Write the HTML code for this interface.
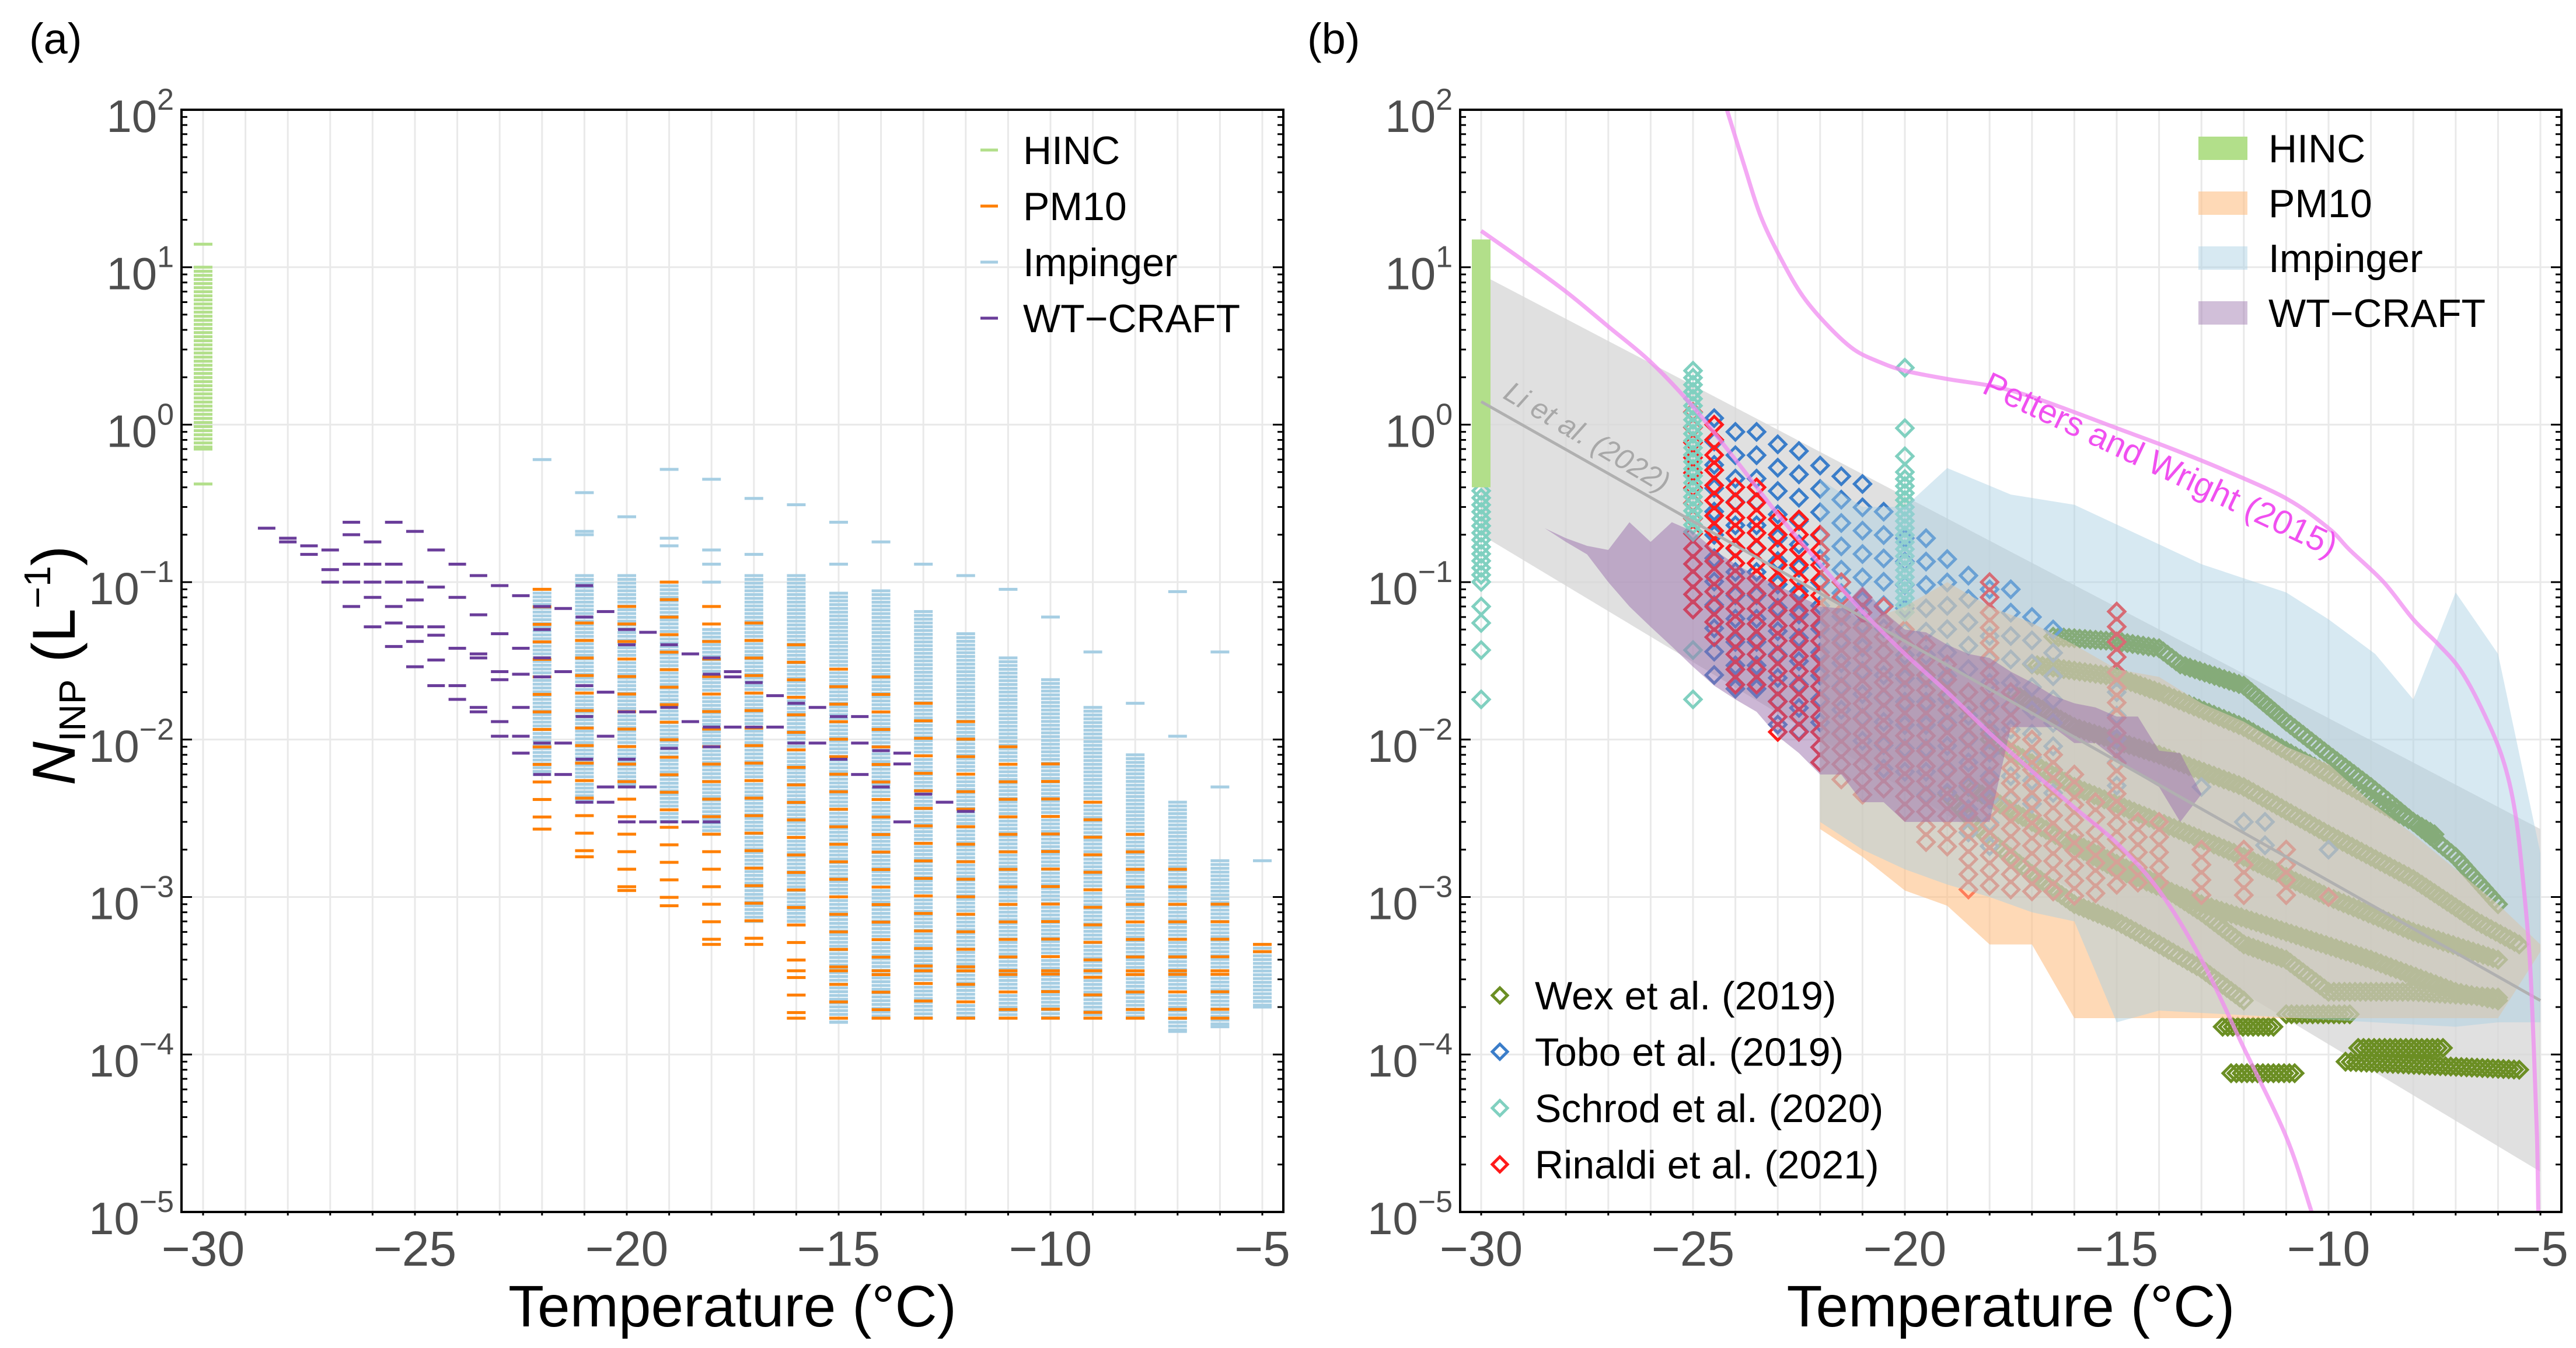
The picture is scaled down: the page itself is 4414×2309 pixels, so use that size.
<!DOCTYPE html>
<html><head><meta charset="utf-8"><style>
html,body{margin:0;padding:0;background:#fff}
svg{display:block}
text{font-family:"Liberation Sans",Arial,sans-serif}
</style></head><body>
<svg id="fig" xmlns="http://www.w3.org/2000/svg" width="4414" height="2309" viewBox="0 0 4414 2309">
<defs>
<clipPath id="clipA"><rect x="311" y="188" width="1888" height="1888"/></clipPath>
<clipPath id="clipB"><rect x="2502" y="188" width="1887" height="1888"/></clipPath>
</defs>
<g id="panelA"></g>
<g id="panelB"></g>
</svg>
<script>
// ---------- data (panel a) ----------
const tempTicks=[-30,-25,-20,-15,-10,-5];
const decadeExp=[2,1,0,-1,-2,-3,-4,-5];
const hincT=-30;
const hincHi=10, hincLo=0.7;
const hincOut=[14,0.42];
const impT=[-22,-21,-20,-19,-18,-17,-16,-15,-14,-13,-12,-11,-10,-9,-8,-7,-6,-5];
const impHi=[0.09,0.11,0.11,0.1,0.05,0.11,0.11,0.085,0.088,0.065,0.047,0.033,0.024,0.016,0.008,0.004,0.0017,0.0005];
const impLo=[0.006,0.004,0.005,0.003,0.0025,0.0007,0.0007,0.00016,0.00017,0.00017,0.00017,0.00017,0.00017,0.00017,0.00017,0.00014,0.00015,0.0002];
const impOut=[[-22,0.6],[-21,0.37],[-21,0.21],[-21,0.2],[-20,0.26],[-19,0.52],[-19,0.19],[-19,0.17],[-18,0.45],[-18,0.16],[-18,0.13],[-18,0.1],[-17,0.34],[-17,0.15],[-16,0.31],[-15,0.24],[-15,0.13],[-14,0.18],[-13,0.13],[-12,0.11],[-11,0.09],[-10,0.06],[-9,0.036],[-8,0.017],[-7,0.087],[-7,0.0105],[-6,0.036],[-6,0.005],[-5,0.0017]];
const pmT=[-22,-21,-20,-19,-18,-17,-16,-15,-14,-13,-12,-11,-10,-9,-8,-7,-6,-5];
const pmHi=[0.09,0.055,0.07,0.1,0.07,0.055,0.04,0.028,0.025,0.017,0.013,0.009,0.007,0.004,0.0025,0.0015,0.0009,0.0005];
const pmLo=[0.0027,0.0018,0.0011,0.00088,0.0005,0.0005,0.00017,0.00017,0.00017,0.00017,0.00017,0.00017,0.00017,0.00017,0.00017,0.00017,0.00017,0.00045];
const pmBase=[0.00034,0.00017];
const craftT=[-28.5,-28,-28,-27.5,-27.5,-27,-27,-27,-26.5,-26.5,-26.5,-26.5,-26.5,-26,-26,-26,-26,-26,-25.5,-25.5,-25.5,-25.5,-25.5,-25.5,-25,-25,-25,-25,-25,-25,-24.5,-24.5,-24.5,-24.5,-24.5,-24.5,-24,-24,-24,-24,-24,-23.5,-23.5,-23.5,-23.5,-23.5,-23.5,-23,-23,-23,-23,-23,-23,-22.5,-22.5,-22.5,-22.5,-22.5,-22.5,-22,-22,-22,-22,-22,-22,-21.5,-21.5,-21.5,-21.5,-21,-21,-21,-21,-21,-21,-20.5,-20.5,-20.5,-20.5,-20.5,-20,-20,-20,-20,-20,-20,-19.5,-19.5,-19.5,-19.5,-19,-19,-19,-19,-18.5,-18.5,-18.5,-18,-18,-18,-18,-18,-17.5,-17.5,-17.5,-17,-17,-16.5,-16.5,-16,-16,-15.5,-15.5,-15,-15,-14.5,-14.5,-14.5,-14,-14,-13.5,-13.5,-13.5,-13,-12.5,-12];
const craftV=[0.22,0.19,0.18,0.17,0.15,0.16,0.12,0.1,0.24,0.2,0.13,0.1,0.07,0.18,0.13,0.1,0.08,0.052,0.24,0.13,0.1,0.07,0.055,0.039,0.21,0.1,0.077,0.052,0.042,0.029,0.16,0.093,0.052,0.046,0.032,0.022,0.13,0.08,0.038,0.022,0.018,0.11,0.062,0.035,0.033,0.016,0.015,0.095,0.047,0.027,0.024,0.013,0.0105,0.082,0.038,0.026,0.016,0.0105,0.0082,0.07,0.05,0.033,0.025,0.0095,0.006,0.068,0.027,0.0095,0.006,0.095,0.06,0.022,0.014,0.0075,0.004,0.065,0.02,0.0105,0.005,0.004,0.05,0.04,0.015,0.0075,0.005,0.003,0.048,0.015,0.005,0.003,0.04,0.016,0.0088,0.003,0.035,0.013,0.003,0.033,0.026,0.012,0.009,0.003,0.027,0.025,0.012,0.023,0.012,0.019,0.012,0.017,0.0095,0.016,0.0095,0.014,0.0075,0.014,0.0095,0.006,0.0085,0.005,0.0082,0.007,0.003,0.0045,0.004,0.0035];

// ---------- data (panel b) ----------
const liT=[-30,-5];
const liMid=[1.4,0.00022];
const liHi=[9,0.0027];
const liLo=[0.2,0.000018];
const impFillT=[-22,-21,-20,-19,-17.5,-16,-13,-11,-10,-8.9,-8,-7,-6,-5];
const impFillHi=[0.45,0.3,0.3,0.53,0.36,0.31,0.13,0.086,0.058,0.035,0.018,0.086,0.035,0.0019];
const impFillLoT=[-22,-21,-20,-19,-18,-17,-16,-15,-14,-7,-6,-5];
const impFillLo=[0.003,0.002,0.0015,0.0012,0.001,0.0008,0.0007,0.00016,0.00019,0.00015,0.00016,0.00016];
const pwLowT=[-30,-29,-28,-27,-26,-25,-24,-23,-22,-21,-20,-19,-18,-17,-16,-15,-14,-13,-12,-11,-10.4];
const pwLowV=[17,11,7,4.2,2.5,1.3,0.6,0.27,0.13,0.065,0.035,0.02,0.011,0.0063,0.0037,0.0022,0.0011,0.0004,0.00011,0.00003,0.00001];
const pwUpT=[-24.2,-23.8,-23.4,-22.9,-22.4,-21.8,-21.2,-20.6,-20,-19,-17.9,-17,-16,-15,-13.8,-12.5,-11,-10,-9.5,-8.7,-8,-7.4,-6.9,-6.4,-5.9,-5.6,-5.4,-5.25,-5.15,-5.08,-5.05];
const pwUpV=[100,45,21,11,6.5,4.2,3.0,2.5,2.2,1.95,1.75,1.5,1.2,0.95,0.72,0.52,0.34,0.22,0.16,0.1,0.058,0.04,0.028,0.016,0.0077,0.0035,0.0012,0.0004,0.0001,0.00003,0.00001];
const schrodT=[-30,-25,-20];
const schrodHi=[0.38,2.2,0.5];
const schrodLo=[0.1,0.2,0.06];
const schrodOut=[[-30,0.07],[-30,0.055],[-30,0.037],[-30,0.018],[-25,0.037],[-25,0.018],[-20,2.3],[-20,0.95],[-20,0.63]];
const toboT=[-24.5,-24,-23.5,-23,-22.5,-22,-21.5,-21,-20.5,-20,-19.5,-19,-18.5,-18,-17.5,-17,-16.5,-15,-13,-12,-11.5,-10];
const toboHi=[1.1,0.9,0.9,0.75,0.68,0.55,0.47,0.42,0.28,0.19,0.19,0.14,0.11,0.09,0.09,0.06,0.05,0.02,0.005,0.003,0.003,0.002];
const toboLo=[0.02,0.02,0.015,0.012,0.01,0.01,0.008,0.007,0.006,0.005,0.004,0.004,0.002,0.002,0.003,0.003,0.004,0.003,0.004,0.003,0.002,0.002];
const rinT=[-25,-24.5,-24,-23.5,-23,-22.5,-22,-21.5,-21,-20.5,-20,-19.5,-19,-18.5,-18,-17.5,-17,-16.5,-16,-15.5,-15,-14.5,-14,-13,-12,-11,-10];
const rinHi=[1.2,1.0,0.4,0.4,0.25,0.25,0.2,0.1,0.08,0.07,0.05,0.04,0.03,0.02,0.1,0.02,0.01,0.008,0.006,0.004,0.065,0.003,0.003,0.002,0.002,0.002,0.001];
const rinLo=[0.055,0.04,0.02,0.018,0.011,0.009,0.007,0.005,0.004,0.004,0.003,0.002,0.002,0.001,0.001,0.001,0.001,0.001,0.001,0.001,0.001,0.001,0.001,0.001,0.001,0.001,0.001];
const wexTracks=[
 [[-19,0.0045],[-18,0.0023],[-17,0.0014],[-16,0.0009],[-15,0.0007],[-14,0.0005],[-13,0.00035],[-12,0.00022]],
 [[-16.5,0.045],[-15,0.042],[-14,0.038],[-13.5,0.03],[-12,0.022],[-11,0.013],[-10,0.008],[-9,0.005],[-8,0.003],[-7.5,0.0025]],
 [[-17,0.03],[-15,0.025],[-14,0.02],[-12,0.012],[-10,0.006],[-8,0.003],[-7,0.0018],[-6,0.0009]],
 [[-17.5,0.02],[-16,0.012],[-14,0.008],[-12,0.005],[-10,0.0025],[-8,0.0013],[-6.5,0.0007],[-5.5,0.0005]],
 [[-18,0.01],[-16,0.005],[-14,0.003],[-12,0.0018],[-10,0.001],[-8,0.0006],[-6,0.0004]],
 [[-18.5,0.005],[-17,0.003],[-15,0.0015],[-13,0.0009],[-11,0.0006],[-9,0.0004],[-7,0.00025],[-6,0.00022]],
 [[-16,0.0022],[-14,0.0012],[-13,0.0008],[-12,0.0005],[-11,0.0004],[-10,0.00025],[-8,0.00025],[-6,0.00023]],
 [[-12.5,0.00015],[-11.3,0.00015]],
 [[-12.3,0.000076],[-10.8,0.000076]],
 [[-9.3,0.00011],[-7.3,0.00011]],
 [[-9.6,0.00009],[-5.5,0.00008]],
 [[-11,0.00018],[-9.5,0.00018]]
];

// ---------- scales ----------
const NS='http://www.w3.org/2000/svg';
const PX=72.6, DEC=269.7, TOP=188, BOT=2076;
const xA=t=>348+(t+30)*PX;
const xB=t=>2538+(t+30)*PX;
const yS=v=>TOP+(2-Math.log10(v))*DEC;
function el(tag,attrs,parent){const e=document.createElementNS(NS,tag);for(const k in attrs)e.setAttribute(k,attrs[k]);if(parent)parent.appendChild(e);return e;}
const gA=document.getElementById('panelA');
const gB=document.getElementById('panelB');

function axes(g,L,R,xf){
  const grid=el('g',{},g);
  
  
  for(let t=-30;t<=-5;t++) el('line',{x1:xf(t),x2:xf(t),y1:TOP,y2:BOT,stroke:'#e9e9e9','stroke-width':3},grid);
  decadeExp.forEach(e=>{const y=yS(Math.pow(10,e));el('line',{x1:L,x2:R,y1:y,y2:y,stroke:'#e9e9e9','stroke-width':3},grid);});
}
function frame(g,L,R,xf,yLabelEnd){
  const f=el('g',{},g);
  
  
  decadeExp.forEach(e=>{
    for(let m=1;m<=9;m++){
      const v=m*Math.pow(10,e); if(e===2&&m>1)continue;
      const y=yS(v); const len=m===1?18:10;
      el('line',{x1:L,x2:L+len,y1:y,y2:y,stroke:'#000','stroke-width':3},f);
      el('line',{x1:R,x2:R-len,y1:y,y2:y,stroke:'#000','stroke-width':3},f);
    }
  });
  for(let t=-30;t<=-5;t++){
    el('line',{x1:xf(t),x2:xf(t),y1:BOT,y2:BOT+6,stroke:'#000','stroke-width':3},f);
  }
  el('rect',{x:L,y:TOP,width:R-L,height:BOT-TOP,fill:'none',stroke:'#000','stroke-width':4},f);
  const yl=el('g',{},g);
  
  
  decadeExp.forEach(e=>{
    const y=yS(Math.pow(10,e));
    const t=el('text',{x:yLabelEnd,y:y+38,'text-anchor':'end','font-size':78,fill:'#4d4d4d'},yl);
    t.appendChild(document.createTextNode('10'));
    const s=el('tspan',{dy:-38,'font-size':52},t);
    s.textContent=(e<0?'\u2212':'')+Math.abs(e);
  });
  const xl=el('g',{},g);
  
  
  tempTicks.forEach(t=>{
    const tx=el('text',{x:xf(t),y:2168,'text-anchor':'middle','font-size':84,fill:'#4d4d4d'},xl);
    tx.textContent=(t<0?'\u2212':'')+Math.abs(t);
  });
  const xt=el('text',{x:(L+R)/2,y:2272,'text-anchor':'middle','font-size':100,fill:'#000'},g);
  
  
  xt.textContent='Temperature (\u00B0C)';
}
function dash(g,x,v,color,w){
  const y=yS(v);
  return el('rect',{x:x-w/2,y:y-2.5,width:w,height:5,fill:color},g);
}
function dashColumn(g,x,hi,lo,step,color,w){
  const y1=yS(hi), y2=yS(lo);
  for(let y=y1;y<=y2+0.1;y+=step){el('rect',{x:x-w/2,y:y-2.5,width:w,height:5,fill:color},g);}
  el('rect',{x:x-w/2,y:y2-2.5,width:w,height:5,fill:color},g);
}
function diamond(g,x,y,r,color){
  el('path',{d:`M${x},${y-r}L${x+r},${y}L${x},${y+r}L${x-r},${y}Z`,fill:'none',stroke:color,'stroke-width':5},g);
}
function diamondColumn(g,x,hi,lo,step,color){
  const y1=yS(hi),y2=yS(lo);
  for(let y=y1;y<=y2+0.1;y+=step) diamond(g,x,y,14,color);
}

// ================= PANEL A =================
axes(gA,311,2199,xA);
const plotA=el('g',{'clip-path':'url(#clipA)'},gA);


const hincG=el('g',{},plotA);


dashColumn(hincG,xA(hincT),hincHi,hincLo,7,'#b2df8a',32);
hincOut.forEach(v=>dash(hincG,xA(hincT),v,'#b2df8a',32));
const impG=el('g',{},plotA);


impT.forEach((t,i)=>dashColumn(impG,xA(t),impHi[i],impLo[i],6.5,'#a6cee3',32));
impOut.forEach(p=>dash(impG,xA(p[0]),p[1],'#a6cee3',32));
const pmG=el('g',{},plotA);


pmT.forEach((t,i)=>{
  dashColumn(pmG,xA(t),pmHi[i],pmLo[i],30,'#ff7f00',32);
  pmBase.forEach(v=>{ if(v>=pmLo[i]&&v<=pmHi[i]) dash(pmG,xA(t),v,'#ff7f00',32); });
});
const crG=el('g',{},plotA);


craftT.forEach((t,i)=>dash(crG,xA(t),craftV[i],'#6a3d9a',30));
frame(gA,311,2199,xA,298);
const legA=el('g',{},gA);


[['HINC','#b2df8a'],['PM10','#ff7f00'],['Impinger','#a6cee3'],['WT\u2212CRAFT','#6a3d9a']].forEach((d,i)=>{
  const y=257+i*96;
  const e=el('g',{},legA);
  
  
  el('rect',{x:1680,y:y-2.5,width:30,height:5,fill:d[1]},e);
  const t=el('text',{x:1753,y:y+24,'font-size':68,fill:'#000'},e);t.textContent=d[0];
});

// ================= PANEL B =================
axes(gB,2502,4389,xB);
const plotB=el('g',{'clip-path':'url(#clipB)'},gB);


const band=el('polygon',{points:`${xB(liT[0])},${yS(liHi[0])} ${xB(liT[1])},${yS(liHi[1])} ${xB(liT[1])},${yS(liLo[1])} ${xB(liT[0])},${yS(liLo[0])}`,fill:'#d6d6d6','fill-opacity':0.75},plotB);


const wexG=el('g',{},plotB);


wexTracks.forEach(tr=>{
  for(let k=0;k<tr.length-1;k++){
    const x1=xB(tr[k][0]),y1=yS(tr[k][1]),x2=xB(tr[k+1][0]),y2=yS(tr[k+1][1]);
    const n=Math.max(1,Math.round(Math.hypot(x2-x1,y2-y1)/9));
    for(let j=0;j<n;j++){
      const x=x1+(x2-x1)*j/n, y=y1+(y2-y1)*j/n;
      diamond(wexG,x,y,14,'#6b8e23');
    }
  }
  const l=tr[tr.length-1]; diamond(wexG,xB(l[0]),yS(l[1]),14,'#6b8e23');
});
const toboG=el('g',{},plotB);


toboT.forEach((t,i)=>diamondColumn(toboG,xB(t),toboHi[i],toboLo[i],40,'#3a7dc9'));
const rinG=el('g',{},plotB);


rinT.forEach((t,i)=>diamondColumn(rinG,xB(t),rinHi[i],rinLo[i],26,'#ff1a1a'));
const schG=el('g',{},plotB);


schrodT.forEach((t,i)=>diamondColumn(schG,xB(t),schrodHi[i],schrodLo[i],12,'#80d0c0'));
schrodOut.forEach(p=>diamond(schG,xB(p[0]),yS(p[1]),14,'#80d0c0'));
function envPoly(g,ts,his,tl,los,color,op,name){
  let pts=ts.map((t,i)=>xB(t)+','+yS(his[i]));
  for(let i=tl.length-1;i>=0;i--) pts.push(xB(tl[i])+','+yS(los[i]));
  const p=el('polygon',{points:pts.join(' '),fill:color,'fill-opacity':op},g);
  
  
}
envPoly(plotB,pmT,pmHi,pmT,pmLo,'#fdbf85',0.6,'pm10-fill');
envPoly(plotB,impFillT,impFillHi,impFillLoT,impFillLo,'#a6cee3',0.45,'impinger-fill');
const cT=[...new Set(craftT)];
const cHi=cT.map(t=>Math.max(...craftV.filter((v,i)=>craftT[i]===t)));
const cLo=cT.map(t=>Math.min(...craftV.filter((v,i)=>craftT[i]===t)));
envPoly(plotB,cT,cHi,cT,cLo,'#9970ab',0.5,'wt-craft-fill');
const hincBar=el('rect',{x:xB(hincT)-16,y:yS(15),width:32,height:yS(0.4)-yS(15),fill:'#b2df8a'},plotB);


const liLine=el('line',{x1:xB(liT[0]),y1:yS(liMid[0]),x2:xB(liT[1]),y2:yS(liMid[1]),stroke:'#b0b0b0','stroke-width':5},plotB);


function curve(ts,vs,name){
  const P=ts.map((t,i)=>[xB(t),yS(vs[i])]);
  let d='M'+P[0][0]+','+P[0][1];
  for(let i=0;i<P.length-1;i++){
    const p0=P[Math.max(0,i-1)],p1=P[i],p2=P[i+1],p3=P[Math.min(P.length-1,i+2)];
    const c1=[p1[0]+(p2[0]-p0[0])/6,p1[1]+(p2[1]-p0[1])/6];
    const c2=[p2[0]-(p3[0]-p1[0])/6,p2[1]-(p3[1]-p1[1])/6];
    d+=`C${c1[0]},${c1[1]} ${c2[0]},${c2[1]} ${p2[0]},${p2[1]}`;
  }
  const p=el('path',{d:d,fill:'none',stroke:'#f08cf0','stroke-opacity':0.75,'stroke-width':7,'stroke-linejoin':'round'},plotB);
  
  
}
curve(pwLowT,pwLowV,'petters-wright-lower-curve');
curve(pwUpT,pwUpV,'petters-wright-upper-curve');
const pwLab=el('text',{x:3700,y:815,'text-anchor':'middle','font-size':58,fill:'#f050f0',transform:'rotate(25.3 3700 800)'},gB);


pwLab.textContent='Petters and Wright (2015)';
const liLab=el('text',{x:2718,y:765,'text-anchor':'middle','font-size':50,fill:'#a8a8a8','font-style':'italic',transform:'rotate(30.8 2718 751)'},gB);


liLab.textContent='Li et al. (2022)';
frame(gB,2502,4389,xB,2489);
const legB=el('g',{},gB);


[['HINC','#b2df8a',1],['PM10','#fdbf85',0.6],['Impinger','#a6cee3',0.45],['WT\u2212CRAFT','#9970ab',0.45]].forEach((d,i)=>{
  const y=254+i*94;
  const e=el('g',{},legB);
  
  
  el('rect',{x:3767,y:y-20,width:84,height:40,fill:d[1],'fill-opacity':d[2]},e);
  const t=el('text',{x:3887,y:y+24,'font-size':68,fill:'#000'},e);t.textContent=d[0];
});
const legB2=el('g',{},gB);


[['Wex et al. (2019)','#6b8e23'],['Tobo et al. (2019)','#3a7dc9'],['Schrod et al. (2020)','#80d0c0'],['Rinaldi et al. (2021)','#ff1a1a']].forEach((d,i)=>{
  const y=1705+i*96.5;
  const e=el('g',{},legB2);
  
  
  diamond(e,2570,y,13,d[1]);
  const t=el('text',{x:2630,y:y+24,'font-size':68,fill:'#000'},e);t.textContent=d[0];
});
const svg=document.getElementById('fig');
const la=el('text',{x:50,y:92,'font-size':74,fill:'#000'},svg);


la.textContent='(a)';
const lb=el('text',{x:2240,y:92,'font-size':74,fill:'#000'},svg);


lb.textContent='(b)';
const yt=el('text',{x:0,y:0,'font-size':104,fill:'#000','text-anchor':'middle',transform:'translate(128 1140) rotate(-90)'},svg);


const n1=el('tspan',{'font-style':'italic'},yt);n1.textContent='N';
const n2=el('tspan',{'font-size':64,dy:18},yt);n2.textContent='INP';
const n3=el('tspan',{dy:-18},yt);n3.textContent=' (L';
const n4=el('tspan',{'font-size':64,dy:-42},yt);n4.textContent='\u22121';
const n5=el('tspan',{dy:42},yt);n5.textContent=')';
</script>
</body></html>
